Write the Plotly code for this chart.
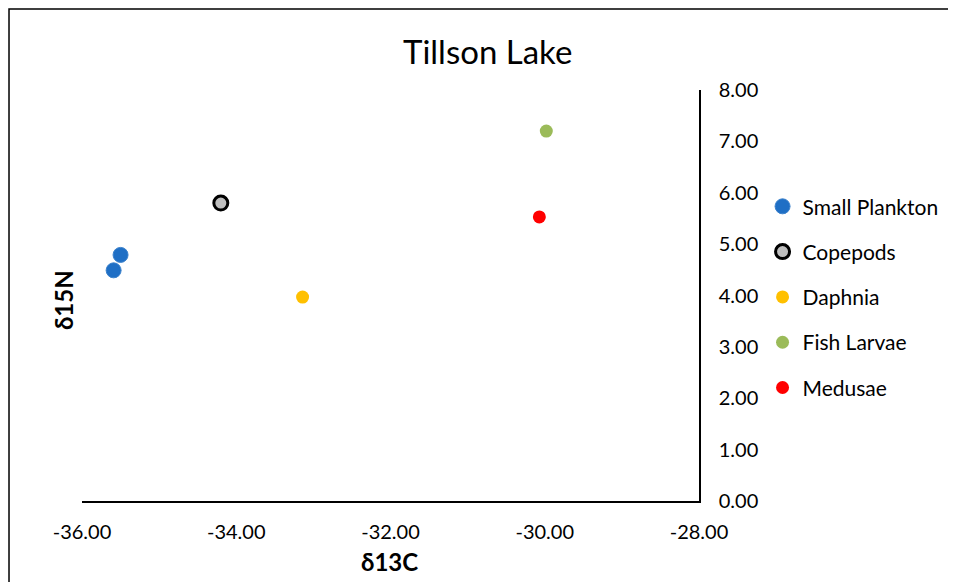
import plotly.graph_objects as go

series_names = ["Small Plankton", "Copepods", "Daphnia", "Fish Larvae", "Medusae"]
d13c = [[-35.59, -35.50], [-34.20], [-33.14], [-29.98], [-30.07]]
d15n = [[4.49, 4.79], [5.80], [3.97], [7.20], [5.53]]
fill_colors = ["#1F6FC5", "#BFBFBF", "#FFC000", "#9BBB59", "#FF0000"]
line_colors = ["#3C82CC", "#000000", "#FFC000", "#9BBB59", "#FF0000"]
line_widths = [1, 3, 0, 0, 0]
sizes = [15, 14, 13, 13, 13]

x_ticks = [-36, -34, -32, -30, -28]
y_ticks = [0, 1, 2, 3, 4, 5, 6, 7, 8]

FONT = "Lato, 'Open Sans', sans-serif"

fig = go.Figure()
for i, name in enumerate(series_names):
    fig.add_trace(go.Scatter(
        x=d13c[i], y=d15n[i], mode="markers", name=name,
        legendgroup=name,
        marker=dict(size=sizes[i], color=fill_colors[i],
                    line=dict(color=line_colors[i], width=line_widths[i])),
    ))

fig.update_layout(
    width=948, height=574,
    paper_bgcolor="white", plot_bgcolor="white",
    margin=dict(l=74, r=255, t=82, b=81),
    font=dict(family=FONT, size=20, color="#000000"),
    title=dict(text="Tillson Lake", x=0.506, xanchor="center", y=0.923, yanchor="middle",
               font=dict(size=33, family=FONT)),
    showlegend=True,
    legend=dict(x=1.103, xanchor="left", y=0.766, yanchor="top",
                font=dict(size=21), tracegroupgap=15, traceorder="grouped",
                itemwidth=30, bgcolor="rgba(0,0,0,0)"),
    xaxis=dict(range=[-36, -28], tickvals=x_ticks, ticktext=[f"{v:.2f}" for v in x_ticks],
               showgrid=False, zeroline=False, showline=True, linecolor="#000000", linewidth=1.5,
               ticks="", ticklabelstandoff=12),
    yaxis=dict(range=[0, 8], tickvals=y_ticks, ticktext=[f"{v:.2f}" for v in y_ticks],
               side="right", showgrid=False, zeroline=False, showline=True,
               linecolor="#000000", linewidth=1.5, ticks="", ticklabelstandoff=14),
    annotations=[
        dict(text="<b>δ13C</b>", xref="paper", yref="paper", x=0.499, y=-0.146,
             xanchor="center", yanchor="middle", showarrow=False, font=dict(size=24)),
        dict(text="<b>δ15N</b>", xref="paper", yref="paper", x=-0.0307, y=0.489,
             xanchor="center", yanchor="middle", showarrow=False, textangle=-90,
             font=dict(size=24)),
    ],
    shapes=[dict(type="rect", xref="paper", yref="paper", x0=-0.1183, x1=1.4055,
                 y0=-0.3, y1=1.197, line=dict(color="#000000", width=1.5))],
)

fig.write_html("out.html")
